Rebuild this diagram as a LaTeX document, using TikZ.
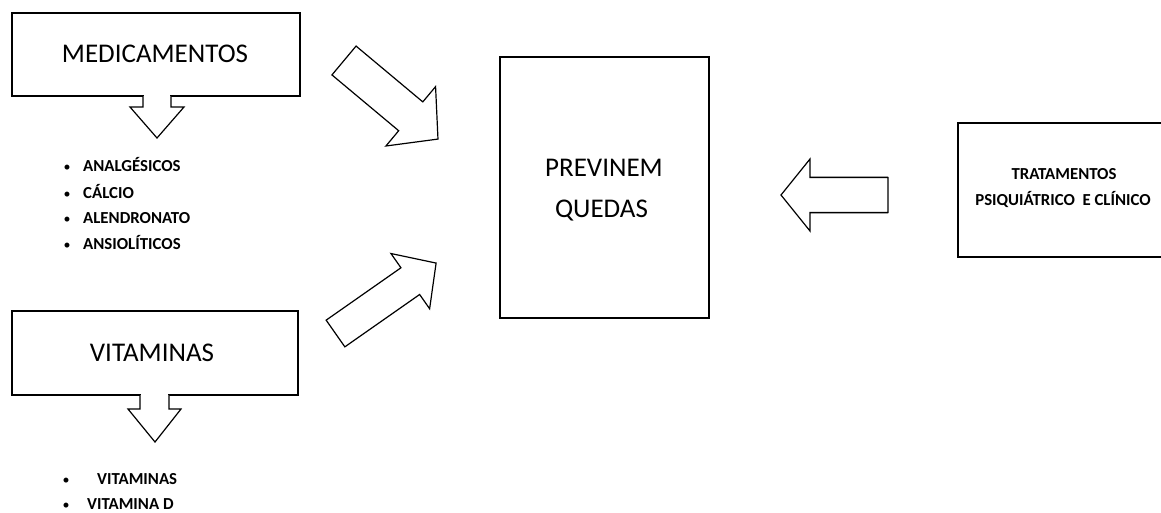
\documentclass[tikz,border=0pt]{standalone}
\usepackage{fontspec}
\setmainfont{Carlito}
\begin{document}
\begin{tikzpicture}[x=1pt,y=-1pt,
  boxline/.style={draw=black, line width=1.7pt, inner sep=0pt, fill=white},
  arrowline/.style={draw=black, line width=1.2pt, line join=miter, fill=white},
  bigtext/.style={font=\fontsize{27}{41}\selectfont, anchor=base, inner sep=0pt},
  listtext/.style={font=\bfseries\fontsize{16.8}{20}\selectfont, anchor=base west, inner sep=0pt},
  bulletmark/.style={font=\fontsize{14}{16}\selectfont, anchor=base, inner sep=0pt}]

% canvas
\useasboundingbox (0,0) rectangle (1161,512);
\fill[white] (0,0) rectangle (1161,512);
\clip (0,0) rectangle (1161,512);

% block arrow: tail point, rotation, length, half shaft width, half head width, head length
\newcommand\blockarrow[6]{%
  \begin{scope}[shift={#1}, rotate=#2]
    \draw[arrowline] (0,-#4) -- ({#3-#6},-#4) -- ({#3-#6},-#5) -- (#3,0)
      -- ({#3-#6},#5) -- ({#3-#6},#4) -- (0,#4) -- cycle;
  \end{scope}}

% ---------- boxes ----------
\node[boxline, minimum width=288pt, minimum height=83pt] (medbox) at (156,54.5) {};
\node[bigtext] (medlabel) at (155,62) {MEDICAMENTOS};

\node[boxline, minimum width=286pt, minimum height=84pt] (vitbox) at (155,353) {};
\node[bigtext] (vitlabel) at (152,361) {VITAMINAS};

\node[boxline, minimum width=209pt, minimum height=261pt] (prevbox) at (604.5,187.5) {};
\node[bigtext] (prevlabel1) at (604,176) {PREVINEM};
\node[bigtext] (prevlabel2) at (601.5,217) {QUEDAS};

\node[boxline, minimum width=212pt, minimum height=134pt] (tratbox) at (1064,190) {};
\node[listtext, anchor=base] (tratlabel1) at (1064,179) {TRATAMENTOS};
\node[listtext, anchor=base] (tratlabel2) at (1063,205) {PSIQUIÁTRICO\ \ E CLÍNICO};

% ---------- down arrows out of the left boxes ----------
\fill[white] (143.7,94) rectangle (170.3,98);
\draw[arrowline] (143,96) -- (143,107) -- (130,107) -- (157,138) -- (184,107) -- (171,107) -- (171,96);

\fill[white] (140.7,393) rectangle (168.3,397);
\draw[arrowline] (140,395) -- (140,409) -- (128,409) -- (155,442) -- (181,409) -- (169,409) -- (169,395);

% ---------- arrows towards the centre box ----------
\coordinate (medtail) at (344,60.5);
\coordinate (vittail) at (335.5,333.5);
\coordinate (trattail) at (888,195);
\blockarrow{(medtail)}{-39.9}{122.5}{18.8}{38.7}{35.5}
\blockarrow{(vittail)}{35}{122.8}{16.3}{33.7}{31.5}

% left-pointing arrow with shaded shaft edges
\draw[gray!55, line width=3.2pt] (trattail) ++(0,-17.5) -- ++(-78,0);
\draw[gray!55, line width=3.2pt] (trattail) ++(0,17.5) -- ++(-78,0);
\blockarrow{(trattail)}{180}{107}{17.5}{36}{29}

% ---------- lists ----------
\foreach \y/\t [count=\i] in {171/ANALGÉSICOS, 198/CÁLCIO, 223/ALENDRONATO, 249/ANSIOLÍTICOS}{
  \node[bulletmark] (medbullet\i) at (67,\y) {•};
  \node[listtext] (meditem\i) at (83,\y) {\t};
}
\node[bulletmark] (vitbullet1) at (66,484) {•};
\node[listtext] (vititem1) at (97,484) {VITAMINAS};
\node[bulletmark] (vitbullet2) at (66,509) {•};
\node[listtext] (vititem2) at (87,509) {VITAMINA D};
\end{tikzpicture}
\end{document}
